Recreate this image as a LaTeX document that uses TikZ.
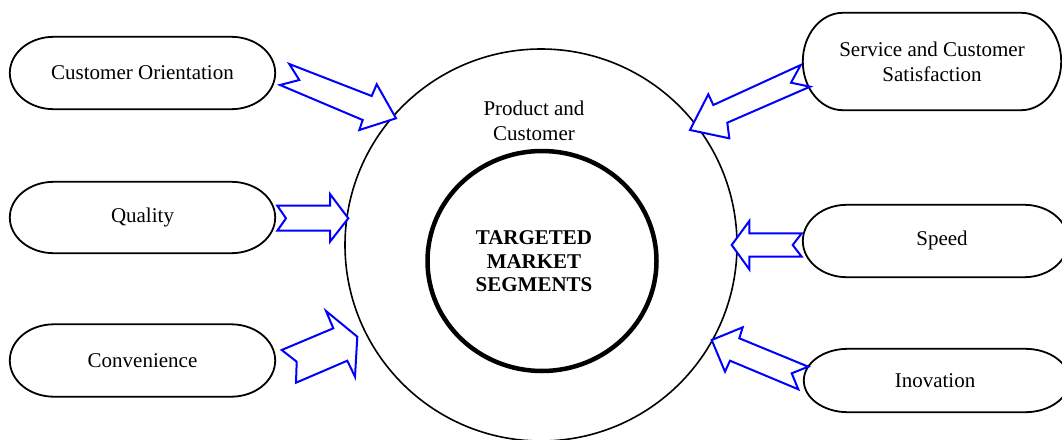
\documentclass[tikz,border=0pt]{standalone}
\usepackage{fontspec}
\setmainfont{Liberation Serif}
\usetikzlibrary{calc,shapes.geometric}
\tikzset{
  txt/.style={inner sep=0pt, align=center, font=\fontsize{21}{25}\selectfont},
  boldtxt/.style={inner sep=0pt, align=center, font=\fontsize{21}{23.5}\selectfont\bfseries},
  pillline/.style={draw=black, line width=1.8pt},
  blockarrow/.style={draw={rgb,255:red,0;green,0;blue,255}, line width=2pt, line join=miter, fill=white},
}
\newcommand\pillbox[2]{%
  \draw[pillline] let \p1=(#1.north west), \p2=(#1.south east), \n1={(\y1-\y2)/2} in
    (\x1+#2pt,\y1) -- (\x2-#2pt,\y1) arc[start angle=90,end angle=-90,x radius=#2pt,y radius=\n1]
    -- (\x1+#2pt,\y2) arc[start angle=270,end angle=90,x radius=#2pt,y radius=\n1] -- cycle;}
\begin{document}
\begin{tikzpicture}[x=1pt,y=-1pt]
\clip (0,0) rectangle (1062,439);
\fill[white] (0,0) rectangle (1062,439);
% central circles
\node[circle, draw, line width=1.6pt, minimum size=392pt, inner sep=0pt] (outer) at (541,245) {};
\node[ellipse, draw, line width=4.5pt, minimum width=229pt, minimum height=220pt, inner sep=0pt] (inner) at (542,261) {};
\node[txt] (pc) at (534,120.5) {Product and\\Customer};
\node[boldtxt] (tms) at (534,261.5) {TARGETED\\MARKET\\SEGMENTS};
% left boxes
\node[txt, minimum width=265pt, minimum height=72pt] (co) at (142.5,73) {Customer Orientation};
\node[txt, minimum width=265pt, minimum height=71pt] (qu) at (142.5,217.5) {Quality};
\node[txt, minimum width=265pt, minimum height=72pt] (cv) at (142.5,360.5) {Convenience};
% right boxes
\node[txt, minimum width=258pt, minimum height=97pt] (sc) at (932,61.5) {Service and Customer\\Satisfaction};
\node[txt, minimum width=265pt, minimum height=72pt] (sp) at (935.5,241) {};
\node[txt] (spt) at (942,240) {Speed};
\node[txt, minimum width=265pt, minimum height=63pt] (in) at (936.5,380.5) {};
\node[txt] (int) at (935,381) {Inovation};
\pillbox{co}{44}
\pillbox{qu}{44}
\pillbox{cv}{44}
\pillbox{sc}{40}
\pillbox{sp}{44}
\pillbox{in}{44}
% block arrows
\draw[blockarrow] (289.3,64) -- (371.7,96) -- (376.7,84.3) -- (396,118.3) -- (359.3,130) -- (362.7,120) -- (280,85) -- (299.3,80) -- cycle;
\draw[blockarrow] (277.3,205.7) -- (330,205.7) -- (330,194) -- (348.3,218.3) -- (330,241.7) -- (330,230.7) -- (277.3,230.7) -- (286,218.3) -- cycle;
\draw[blockarrow] (281.7,350) -- (333.3,328.3) -- (326,311) -- (357.3,336.7) -- (355,376.7) -- (347.3,360.7) -- (296,382.7) -- (296.7,361.7) -- cycle;
\draw[blockarrow] (800.7,65) -- (791,82.7) -- (810,86.7) -- (727.3,122.7) -- (729.3,138.3) -- (690,130) -- (708.3,94.3) -- (713.3,105) -- cycle;
\draw[blockarrow] (731.7,245) -- (749.3,221) -- (749.3,233.3) -- (801.7,233.3) -- (792.7,245) -- (801.7,256.7) -- (749.3,256.7) -- (749.3,269.3) -- cycle;
\draw[blockarrow] (711.7,340) -- (742.7,327.3) -- (739.3,338.3) -- (808.3,366.7) -- (791.7,373.3) -- (798.3,389.3) -- (730,360.7) -- (725,371.7) -- cycle;
\end{tikzpicture}
\end{document}
